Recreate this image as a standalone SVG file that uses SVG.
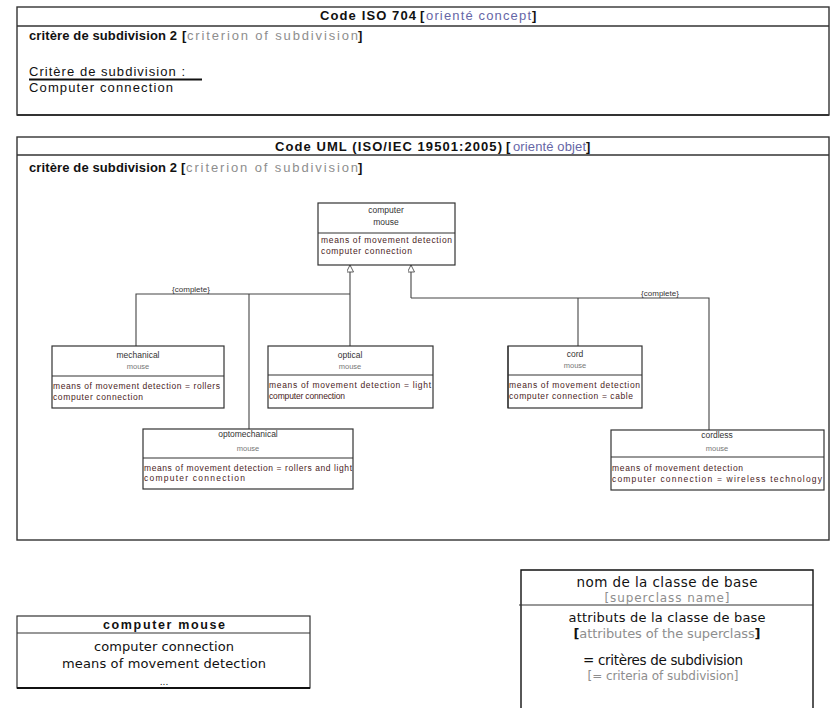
<svg xmlns="http://www.w3.org/2000/svg" width="832" height="708" viewBox="0 0 832 708">
<style>
.frame{fill:none;stroke:#333;stroke-width:1.4}
.node rect{fill:#fff;stroke:#333;stroke-width:1.2}
.node line{stroke:#333;stroke-width:1.2}
.conn path{fill:none;stroke:#444;stroke-width:1.1}
.t{font-family:"Liberation Sans",Arial,sans-serif;fill:#111}
.dv{font-family:"DejaVu Sans",Verdana,sans-serif;fill:#111;text-anchor:middle}
.b{font-weight:bold}
.t.g,.dv.g,tspan.g{fill:#8e8e8e}
.t.bl{fill:#6666a6}
.nm{font-family:"Liberation Sans",Arial,sans-serif;font-size:8.5px;fill:#333;text-anchor:middle}
.nm.nm2{fill:#777;font-size:7.5px}
.at{font-family:"Liberation Sans",Arial,sans-serif;font-size:8.5px;fill:#4a1c1c}
.lbl{font-family:"Liberation Sans",Arial,sans-serif;font-size:8px;fill:#333;text-anchor:middle}
</style>
<defs>
<marker id="gen" viewBox="0 0 10 10" refX="10" refY="5" markerWidth="8" markerHeight="7" markerUnits="userSpaceOnUse" orient="auto">
<path d="M0,0 L10,5 L0,10 Z" fill="#fff" stroke="#444" stroke-width="1.2"/>
</marker>
</defs>

<!-- Top box: ISO 704 -->
<g id="iso704">
<rect class="frame" x="17" y="7" width="812" height="108"/>
<line x1="17" y1="26" x2="829" y2="26" stroke="#333" stroke-width="1.4"/>
<line x1="17" y1="115" x2="829" y2="115" stroke="#333" stroke-width="2"/>
<text class="t b" x="320" y="20" font-size="13" textLength="96" lengthAdjust="spacing">Code ISO 704</text>
<text class="t b" x="420" y="20" font-size="13">[</text>
<text class="t bl" x="426" y="20" font-size="13" textLength="105" lengthAdjust="spacing">orienté concept</text>
<text class="t b" x="532" y="20" font-size="13">]</text>
<text class="t b" x="29" y="40" font-size="13" textLength="148" lengthAdjust="spacing">critère de subdivision 2</text>
<text class="t b" x="182" y="40" font-size="13">[</text>
<text class="t g" x="187" y="40" font-size="13" textLength="171" lengthAdjust="spacing">criterion of subdivision</text>
<text class="t b" x="358" y="40" font-size="13">]</text>
<text class="t" x="29" y="76" font-size="13" textLength="156" lengthAdjust="spacing">Critère de subdivision :</text>
<line x1="29" y1="79.5" x2="202" y2="79.5" stroke="#111" stroke-width="2"/>
<text class="t" x="29" y="92" font-size="13" textLength="144" lengthAdjust="spacing">Computer connection</text>
</g>

<!-- UML frame -->
<g id="uml">
<rect class="frame" x="17" y="137" width="812" height="403"/>
<line x1="17" y1="155" x2="829" y2="155" stroke="#333" stroke-width="1.4"/>
<text class="t b" x="275" y="151" font-size="13" textLength="227" lengthAdjust="spacing">Code UML (ISO/IEC 19501:2005)</text>
<text class="t b" x="506" y="151" font-size="13">[</text>
<text class="t bl" x="513" y="151" font-size="13" textLength="73" lengthAdjust="spacing">orienté objet</text>
<text class="t b" x="586" y="151" font-size="13">]</text>
<text class="t b" x="29" y="172" font-size="13" textLength="148" lengthAdjust="spacing">critère de subdivision 2</text>
<text class="t b" x="181" y="172" font-size="13">[</text>
<text class="t g" x="186" y="172" font-size="13" textLength="172" lengthAdjust="spacing">criterion of subdivision</text>
<text class="t b" x="358" y="172" font-size="13">]</text>
</g>

<!-- Connectors -->
<g id="connectors" class="conn">
<path d="M350,346 V265" marker-end="url(#gen)"/>
<path d="M136,346 V294 H350"/>
<path d="M249,429 V294"/>
<path d="M411,298 V265" marker-end="url(#gen)"/>
<path d="M411,298 H709 V430"/>
<path d="M578,298 V346"/>
<text class="lbl" x="191" y="292">{complete}</text>
<text class="lbl" x="660" y="295.5">{complete}</text>
</g>

<!-- Nodes -->
<g id="computer-mouse" class="node">
<rect x="318" y="203" width="137" height="62"/>
<line x1="318" y1="233" x2="455" y2="233" stroke-width="2.2"/>
<text class="nm" x="386" y="213">computer</text>
<text class="nm" x="386" y="225">mouse</text>
<text class="at" x="321" y="243" textLength="131" lengthAdjust="spacing" fill="#6a1c1c">means of movement detection</text>
<text class="at" x="321" y="254" textLength="91" lengthAdjust="spacing" fill="#7a4a3a">computer connection</text>
</g>

<g id="mechanical-mouse" class="node">
<rect x="52" y="346" width="172" height="62"/>
<line x1="52" y1="376" x2="224" y2="376"/>
<text class="nm" x="138" y="358">mechanical</text>
<text class="nm nm2" x="138" y="369">mouse</text>
<text class="at" x="53" y="389" textLength="167" lengthAdjust="spacing">means of movement detection = rollers</text>
<text class="at" x="53" y="400" textLength="90" lengthAdjust="spacing">computer connection</text>
</g>

<g id="optical-mouse" class="node">
<rect x="268" y="346" width="165" height="62"/>
<line x1="268" y1="375" x2="433" y2="375"/>
<text class="nm" x="350" y="358">optical</text>
<text class="nm nm2" x="350" y="369">mouse</text>
<text class="at" x="269" y="388" textLength="162" lengthAdjust="spacing">means of movement detection = light</text>
<text class="at" x="269" y="399" textLength="76" lengthAdjust="spacing">computer connection</text>
</g>

<g id="cord-mouse" class="node">
<rect x="508" y="346" width="134" height="62"/>
<line x1="508" y1="346" x2="508" y2="408" stroke-width="2.4" stroke="#111"/>
<line x1="508" y1="375" x2="642" y2="375"/>
<text class="nm" x="575" y="357">cord</text>
<text class="nm nm2" x="575" y="368">mouse</text>
<text class="at" x="509" y="388" textLength="131" lengthAdjust="spacing">means of movement detection</text>
<text class="at" x="509" y="399" textLength="124" lengthAdjust="spacing">computer connection = cable</text>
</g>

<g id="optomechanical-mouse" class="node">
<rect x="143" y="429" width="210" height="60"/>
<line x1="143" y1="458" x2="353" y2="458"/>
<text class="nm" x="248" y="437">optomechanical</text>
<text class="nm nm2" x="248" y="451">mouse</text>
<text class="at" x="144" y="471" textLength="208" lengthAdjust="spacing">means of movement detection = rollers and light</text>
<text class="at" x="144" y="481" textLength="101" lengthAdjust="spacing">computer connection</text>
</g>

<g id="cordless-mouse" class="node">
<rect x="611" y="430" width="213" height="60"/>
<line x1="611" y1="457" x2="824" y2="457"/>
<text class="nm" x="717" y="438">cordless</text>
<text class="nm nm2" x="717" y="451">mouse</text>
<text class="at" x="612" y="471" textLength="131" lengthAdjust="spacing">means of movement detection</text>
<text class="at" x="612" y="482" textLength="210" lengthAdjust="spacing">computer connection = wireless technology</text>
</g>

<!-- Bottom left example class -->
<g id="example-class">
<rect x="17" y="616" width="293" height="72" fill="#fff" stroke="#333" stroke-width="1.2"/>
<line x1="17" y1="633" x2="310" y2="633" stroke="#333" stroke-width="1.2"/>
<line x1="17" y1="688" x2="310" y2="688" stroke="#111" stroke-width="2.2"/>
<text class="t b" x="103" y="629" font-size="12.5" textLength="122" lengthAdjust="spacing" fill="#222">computer mouse</text>
<text class="dv" x="164" y="651" font-size="13" textLength="140" lengthAdjust="spacing" fill="#222">computer connection</text>
<text class="dv" x="164" y="668" font-size="13" textLength="204" lengthAdjust="spacing" fill="#222">means of movement detection</text>
<text class="dv" x="164" y="685" font-size="9" fill="#444">...</text>
</g>

<!-- Bottom right legend -->
<g id="legend">
<path d="M521,708 V570 H813 V708" fill="none" stroke="#111" stroke-width="1.4"/>
<line x1="519" y1="605" x2="813" y2="605" stroke="#333" stroke-width="1.2"/>
<text class="dv" x="667" y="587" font-size="13.5" textLength="181" lengthAdjust="spacing">nom de la classe de base</text>
<text class="dv g" x="667" y="602" font-size="12" textLength="125" lengthAdjust="spacing">[superclass name]</text>
<text class="dv" x="667" y="622" font-size="13" textLength="197" lengthAdjust="spacing">attributs de la classe de base</text>
<text class="dv" x="667" y="638" font-size="13" textLength="187" lengthAdjust="spacing"><tspan font-weight="bold">[</tspan><tspan class="g">attributes of the superclass</tspan><tspan font-weight="bold">]</tspan></text>
<text class="dv" x="663" y="665" font-size="13.5" textLength="160" lengthAdjust="spacing">= critères de subdivision</text>
<text class="dv g" x="663" y="680" font-size="12" textLength="151" lengthAdjust="spacing">[= criteria of subdivision]</text>
</g>
</svg>
